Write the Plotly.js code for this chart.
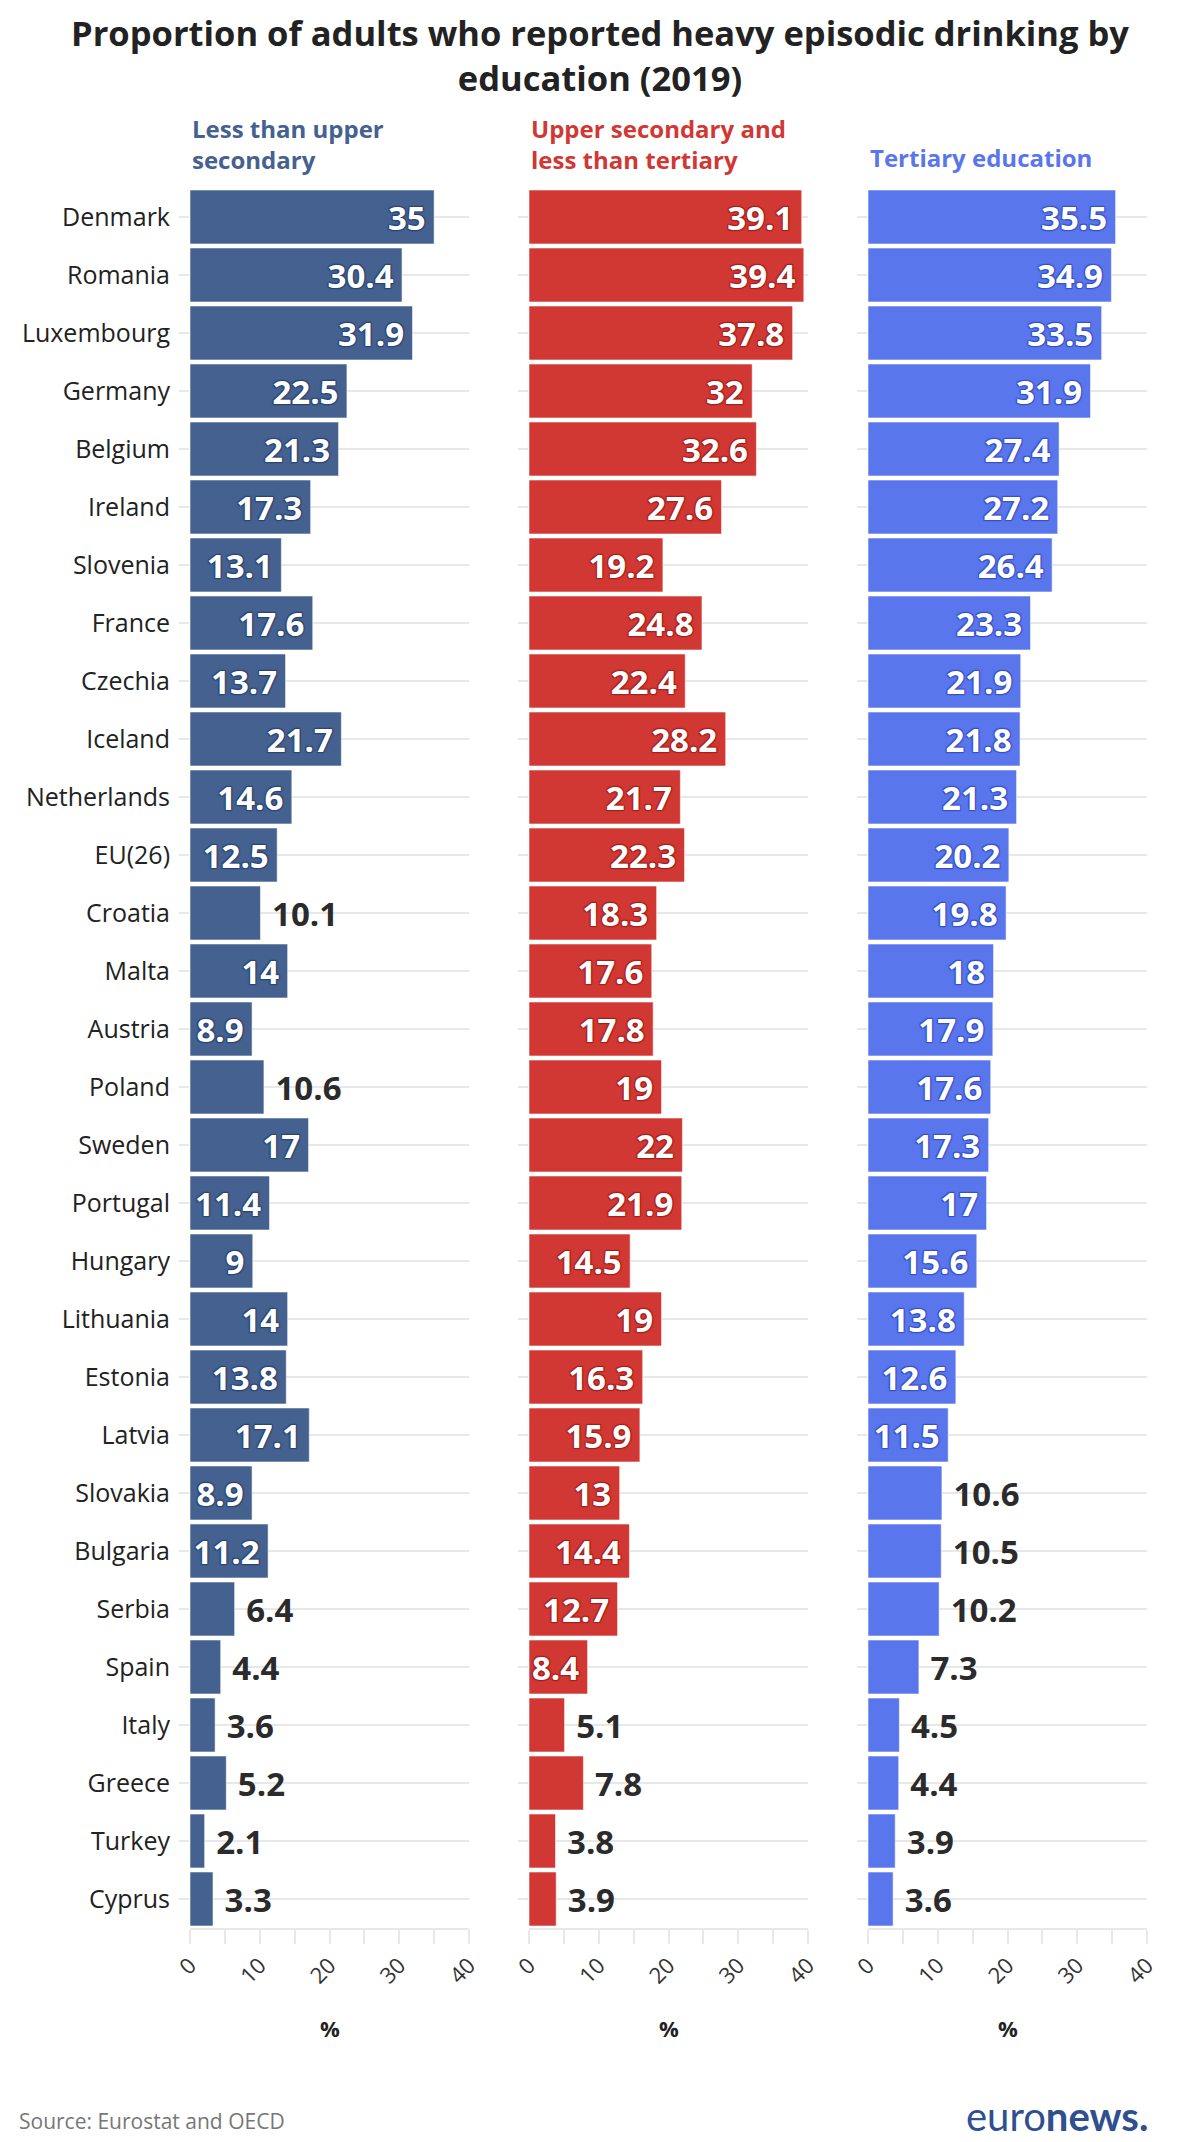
<!DOCTYPE html>
<html>
<head>
<meta charset="utf-8">
<script src="https://cdn.plot.ly/plotly-3.0.1.min.js"></script>
<style>
  html, body { margin: 0; padding: 0; background: #fff; }
  #chart { width: 1200px; height: 2142px; }
</style>
</head>
<body>
<div id="chart"></div>
<script>
// ---------- DATA ----------
const countries = ["Denmark", "Romania", "Luxembourg", "Germany", "Belgium", "Ireland", "Slovenia", "France", "Czechia", "Iceland", "Netherlands", "EU(26)", "Croatia", "Malta", "Austria", "Poland", "Sweden", "Portugal", "Hungary", "Lithuania", "Estonia", "Latvia", "Slovakia", "Bulgaria", "Serbia", "Spain", "Italy", "Greece", "Turkey", "Cyprus"];
const lessThanUpperSecondary = [35, 30.4, 31.9, 22.5, 21.3, 17.3, 13.1, 17.6, 13.7, 21.7, 14.6, 12.5, 10.1, 14, 8.9, 10.6, 17, 11.4, 9, 14, 13.8, 17.1, 8.9, 11.2, 6.4, 4.4, 3.6, 5.2, 2.1, 3.3];
const upperSecondary = [39.1, 39.4, 37.8, 32, 32.6, 27.6, 19.2, 24.8, 22.4, 28.2, 21.7, 22.3, 18.3, 17.6, 17.8, 19, 22, 21.9, 14.5, 19, 16.3, 15.9, 13, 14.4, 12.7, 8.4, 5.1, 7.8, 3.8, 3.9];
const tertiary = [35.5, 34.9, 33.5, 31.9, 27.4, 27.2, 26.4, 23.3, 21.9, 21.8, 21.3, 20.2, 19.8, 18, 17.9, 17.6, 17.3, 17, 15.6, 13.8, 12.6, 11.5, 10.6, 10.5, 10.2, 7.3, 4.5, 4.4, 3.9, 3.6];
const seriesHeaders = ["Less than upper<br>secondary", "Upper secondary and<br>less than tertiary", "Tertiary education"];
const xTickVals = [0, 10, 20, 30, 40];
const xTickText = ["0", "10", "20", "30", "40"];
const unitLabel = "%";
const sourceText = "Source: Eurostat and OECD";
const titleText = "Proportion of adults who reported heavy episodic drinking by<br>education (2019)";

// ---------- STYLE ----------
const W = 1200, H = 2142;
const plotTop = 188, plotBottom = 1928;
const colors = ["#44618f", "#d13833", "#5a76ec"];
const shadowColors = ["#2b4470", "#a3201c", "#3650c4"];
const domainsPx = [[190, 469], [529, 808], [868, 1147]];
const FONT = "Open Sans, sans-serif";
const gridCol = "#e8e8e8";
const LABEL_SIZE = 33;

function pyPaper(py) { return (plotBottom - py) / (plotBottom - plotTop); }

// label placement: inside when the bar is long enough for its label
function positions(vals) {
  return vals.map(v => {
    const s = String(v);
    const need = s.length >= 4 ? 11 : (s.length === 3 ? 8 : 0);
    return v >= need ? "inside" : "outside";
  });
}
// a little extra breathing room between bar end and label
function labels(vals, pos) {
  return vals.map((v, k) => pos[k] === "inside" ? String(v) + "\u2009" : "\u00A0" + String(v));
}

const allSeries = [lessThanUpperSecondary, upperSecondary, tertiary];
const traces = allSeries.map((vals, i) => {
  const pos = positions(vals);
  return {
    type: "bar",
    orientation: "h",
    x: vals,
    y: countries,
    xaxis: i === 0 ? "x" : "x" + (i + 1),
    yaxis: i === 0 ? "y" : "y" + (i + 1),
    marker: { color: colors[i], line: { color: "rgba(255,255,255,0.55)", width: 1 } },
    text: labels(vals, pos),
    textposition: pos,
    insidetextanchor: "end",
    constraintext: "none",
    cliponaxis: false,
    insidetextfont: {
      family: FONT, size: LABEL_SIZE, color: "#ffffff", weight: 700,
      shadow: `1px 1px 1px ${shadowColors[i]}, -1px -1px 1px ${shadowColors[i]}, 1px -1px 1px ${shadowColors[i]}, -1px 1px 1px ${shadowColors[i]}`
    },
    outsidetextfont: { family: FONT, size: LABEL_SIZE, color: "#2b2b2b", weight: 700 },
    hoverinfo: "x+y",
    showlegend: false
  };
});

const layout = {
  width: W, height: H,
  paper_bgcolor: "#ffffff", plot_bgcolor: "#ffffff",
  margin: { l: 0, r: 0, t: plotTop, b: H - plotBottom, pad: 0 },
  bargap: 0.07,
  font: { family: FONT, color: "#222" },
  title: {
    text: titleText,
    x: 0.5, xanchor: "center",
    yref: "container", y: 1 - 46 / H, yanchor: "top",
    font: { family: FONT, size: 34.5, color: "#222", weight: 700 }
  },
  annotations: [],
  showlegend: false
};

for (let i = 0; i < 3; i++) {
  const xa = i === 0 ? "xaxis" : "xaxis" + (i + 1);
  const ya = i === 0 ? "yaxis" : "yaxis" + (i + 1);
  const xname = i === 0 ? "x" : "x" + (i + 1);
  const yname = i === 0 ? "y" : "y" + (i + 1);
  layout[xa] = {
    domain: [domainsPx[i][0] / W, domainsPx[i][1] / W],
    anchor: yname,
    range: [0, 40],
    tickvals: xTickVals, ticktext: xTickText,
    tickangle: -45,
    ticks: "outside", ticklen: 14, tickwidth: 2, tickcolor: gridCol,
    minor: { dtick: 5, tick0: 0, ticks: "outside", ticklen: 14, tickwidth: 2, tickcolor: gridCol, showgrid: false },
    showline: true, linecolor: gridCol, linewidth: 2,
    showgrid: false, zeroline: false,
    tickfont: { family: FONT, size: 22, color: "#333" },
    fixedrange: true
  };
  layout[ya] = {
    domain: [0, 1],
    anchor: xname,
    type: "category",
    autorange: "reversed",
    showgrid: true, gridcolor: gridCol, gridwidth: 2,
    ticks: "outside", ticklen: 10, tickwidth: 2, tickcolor: gridCol,
    showticklabels: i === 0,
    ticklabelstandoff: 4,
    tickfont: { family: FONT, size: 25, color: "#222" },
    zeroline: false, showline: false,
    fixedrange: true
  };
  // series header
  const twoLines = seriesHeaders[i].indexOf("<br>") >= 0;
  layout.annotations.push({
    text: "<b>" + seriesHeaders[i] + "</b>",
    xref: "paper", yref: "paper",
    x: domainsPx[i][0] / W, xanchor: "left",
    y: pyPaper(twoLines ? 144 : 157), yanchor: "middle",
    align: "left", showarrow: false,
    font: { family: FONT, size: 24, color: colors[i] }
  });
  // unit label
  layout.annotations.push({
    text: "<b>" + unitLabel + "</b>",
    xref: "paper", yref: "paper",
    x: (domainsPx[i][0] + domainsPx[i][1]) / 2 / W, xanchor: "center",
    y: pyPaper(2028), yanchor: "middle",
    showarrow: false,
    font: { family: FONT, size: 22, color: "#222" }
  });
}

layout.annotations.push({
  text: sourceText,
  xref: "paper", yref: "paper",
  x: 17 / W, xanchor: "left",
  y: pyPaper(2121), yanchor: "middle",
  showarrow: false,
  font: { family: FONT, size: 21, color: "#777" }
});
layout.annotations.push({
  text: "<span style='font-weight:400'>euro</span><b>news.</b>",
  xref: "paper", yref: "paper",
  x: 1150 / W, xanchor: "right",
  y: pyPaper(2116), yanchor: "middle",
  showarrow: false,
  font: { family: "Lato, sans-serif", size: 40, color: "#2f4f8f" }
});

Plotly.newPlot("chart", traces, layout, { displayModeBar: false, staticPlot: true });
</script>
</body>
</html>
